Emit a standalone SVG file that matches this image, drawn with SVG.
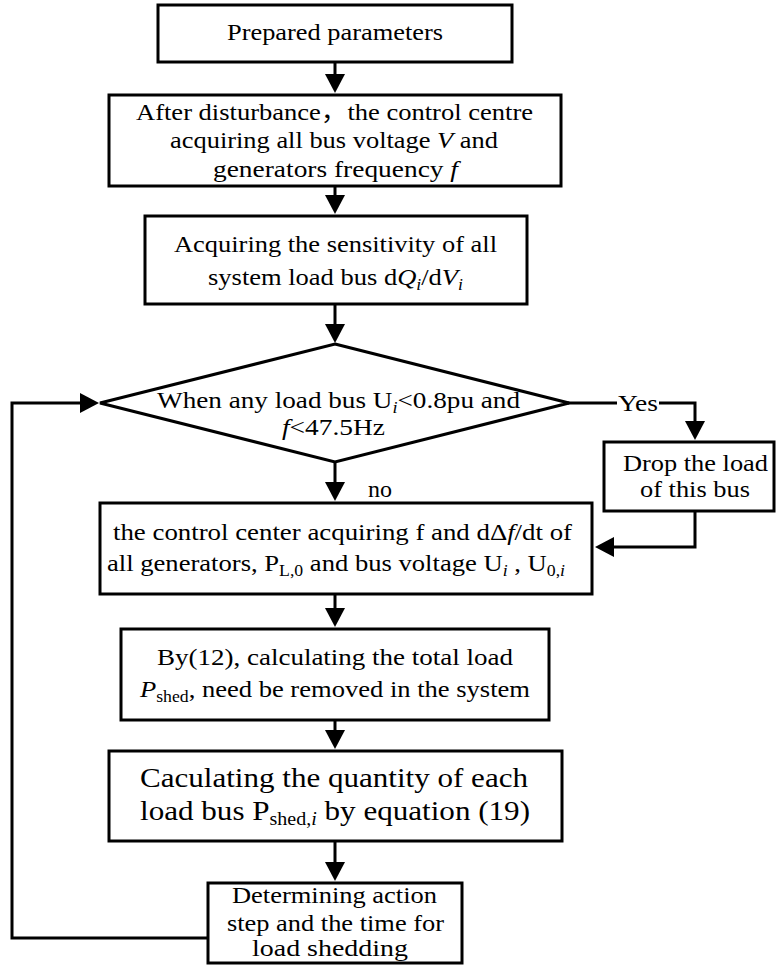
<svg xmlns="http://www.w3.org/2000/svg" width="777" height="965" viewBox="0 0 777 965">
<defs>
<style>
.box{fill:#fff;stroke:#000;stroke-width:3}
.ln{fill:none;stroke:#000;stroke-width:3;marker-end:url(#ah)}
.pl{fill:none;stroke:#000;stroke-width:3}
.i{font-style:italic}
.sub{font-size:16px}
.bsub{font-size:18px}
</style>
<marker id="ah" markerUnits="userSpaceOnUse" markerWidth="20" markerHeight="20" refX="1" refY="10" orient="auto" viewBox="0 0 20 20"><path d="M0,0 L19,10 L0,20 z" fill="#000"/></marker>
</defs>
<rect width="777" height="965" fill="#fff"/>
<g font-family="'Liberation Serif', 'Times New Roman', Times, 'Noto Sans CJK SC', serif" font-size="24" fill="#000" xml:space="preserve">
<g id="connectors">
<path class="ln" d="M335,63 V75"/>
<path class="ln" d="M335,187 V196"/>
<path class="ln" d="M335,305 V325"/>
<path class="ln" d="M335,462 V483"/>
<path class="ln" d="M335,595 V609"/>
<path class="ln" d="M335,721 V731"/>
<path class="ln" d="M335,842 V863"/>
<path class="pl" d="M568,403 H617"/>
<path class="ln" d="M659,403 H695 V422"/>
<path class="ln" d="M695,512 V547 H613"/>
<path class="ln" d="M207,938 H12 V403 H81"/>
<text x="618" y="411" textLength="40" lengthAdjust="spacingAndGlyphs">Yes</text>
<text x="368" y="497" textLength="24" lengthAdjust="spacingAndGlyphs">no</text>
</g>
<g id="n1">
<rect class="box" x="158" y="5" width="354" height="57"/>
<text x="227" y="40" textLength="216" lengthAdjust="spacingAndGlyphs">Prepared parameters</text>
</g>
<g id="n2">
<rect class="box" x="109" y="95" width="452" height="91"/>
<text x="136" y="120" textLength="397" lengthAdjust="spacingAndGlyphs">After disturbance，the control centre</text>
<text x="170" y="148" textLength="328" lengthAdjust="spacingAndGlyphs">acquiring all bus voltage <tspan class="i">V</tspan> and</text>
<text x="213" y="177" textLength="245" lengthAdjust="spacingAndGlyphs">generators frequency  <tspan class="i">f</tspan></text>
</g>
<g id="n3">
<rect class="box" x="145" y="216" width="382" height="88"/>
<text x="174" y="252" textLength="323" lengthAdjust="spacingAndGlyphs">Acquiring the sensitivity of all</text>
<text x="208" y="285" textLength="255" lengthAdjust="spacingAndGlyphs">system load bus d<tspan class="i">Q</tspan><tspan class="i sub" dy="5">i</tspan><tspan dy="-5">/d</tspan><tspan class="i">V</tspan><tspan class="i sub" dy="5">i</tspan></text>
</g>
<g id="n4">
<polygon class="box" points="335,344 569,403 335,462 100,403"/>
<text x="157" y="408" textLength="363" lengthAdjust="spacingAndGlyphs">When  any load bus U<tspan class="i sub" dy="5">i</tspan><tspan dy="-5">&lt;0.8pu and</tspan></text>
<text x="282" y="435" textLength="103" lengthAdjust="spacingAndGlyphs"><tspan class="i">f</tspan>&lt;47.5Hz</text>
</g>
<g id="n5">
<rect class="box" x="604" y="442" width="170" height="69"/>
<text x="623" y="471" textLength="145" lengthAdjust="spacingAndGlyphs">Drop the load</text>
<text x="640" y="497" textLength="110" lengthAdjust="spacingAndGlyphs">of this bus</text>
</g>
<g id="n6">
<rect class="box" x="100" y="503" width="492" height="91"/>
<text x="113" y="540" textLength="459" lengthAdjust="spacingAndGlyphs">the control center  acquiring f and dΔ<tspan class="i">f</tspan>/dt of</text>
<text x="107" y="571" textLength="458" lengthAdjust="spacingAndGlyphs">all generators, P<tspan class="sub" dy="5">L,0</tspan><tspan dy="-5"> and bus voltage U</tspan><tspan class="i sub" dy="5">i</tspan><tspan dy="-5"> , U</tspan><tspan class="sub" dy="5">0,</tspan><tspan class="i sub">i</tspan></text>
</g>
<g id="n7">
<rect class="box" x="121" y="629" width="428" height="91"/>
<text x="157" y="665" textLength="356" lengthAdjust="spacingAndGlyphs">By(12),  calculating the total load</text>
<text x="140" y="697" textLength="390" lengthAdjust="spacingAndGlyphs"><tspan class="i">P</tspan><tspan class="sub" dy="5">shed</tspan><tspan dy="-5">, need be removed in the system</tspan></text>
</g>
<g id="n8">
<rect class="box" x="109" y="751" width="453" height="90"/>
<text font-size="28" x="140" y="787" textLength="388" lengthAdjust="spacingAndGlyphs">Caculating the quantity of each</text>
<text font-size="28" x="140" y="820" textLength="390" lengthAdjust="spacingAndGlyphs">load bus P<tspan class="bsub" dy="5">shed,</tspan><tspan class="i bsub">i</tspan><tspan dy="-5"> by equation (19)</tspan></text>
</g>
<g id="n9">
<rect class="box" x="208" y="883" width="254" height="80"/>
<text x="232" y="903" textLength="205" lengthAdjust="spacingAndGlyphs">Determining action</text>
<text x="227" y="931" textLength="217" lengthAdjust="spacingAndGlyphs">step and the time for</text>
<text x="252" y="956" textLength="156" lengthAdjust="spacingAndGlyphs">load shedding</text>
</g>
</g>
</svg>
